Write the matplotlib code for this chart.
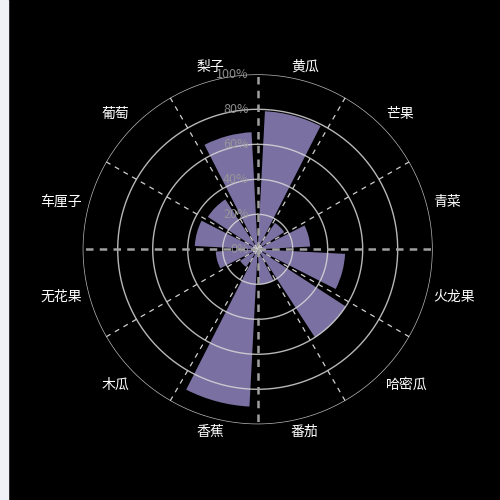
import numpy as np
import matplotlib
matplotlib.use("Agg")
import matplotlib.pyplot as plt
from matplotlib.patches import Rectangle

plt.rcParams['font.family'] = ['Noto Sans CJK SC', 'DejaVu Sans']

# categories clockwise from top
categories = ["黄瓜", "芒果", "青菜", "火龙果", "哈密瓜", "番茄",
              "香蕉", "木瓜", "无花果", "车厘子", "葡萄", "梨子"]
values = [79, 18, 30, 50, 60, 20, 90, 12, 24, 36, 34, 67]
r_ticks = [0, 20, 40, 60, 80, 100]
r_tick_labels = ["0%", "20%", "40%", "60%", "80%", "100%"]

BAR_COLOR = "#7a70a1"

fig = plt.figure(figsize=(5, 5), dpi=100, facecolor="black")
fig.patches.append(Rectangle((0, 0), 8 / 500, 1, transform=fig.transFigure,
                             color="#eff1f7", zorder=0))

ax = fig.add_axes([0.1654, 0.1514, 0.7, 0.7], projection="polar")
ax.set_facecolor("black")
ax.set_theta_zero_location("N")
ax.set_theta_direction(-1)
ax.set_ylim(0, 100)
ax.grid(False)
ax.set_xticks([])
ax.set_yticks([])
ax.spines["polar"].set_visible(False)

n = len(categories)
step = 2 * np.pi / n
theta = np.arange(n) * step + step / 2
ax.bar(theta, values, width=step * 0.8, bottom=0, color=BAR_COLOR,
       edgecolor="none", zorder=2)

# grid circles
tt = np.linspace(0, 2 * np.pi, 400)
for r in r_ticks[1:]:
    ax.plot(tt, np.full_like(tt, r), color="#d8d8d8", lw=1.0, alpha=0.85, zorder=3)
ax.plot(tt, np.full_like(tt, 2.5), color="#dddddd", lw=0.8, ls=(0, (1, 1)), zorder=3)

# spokes
for k in range(n):
    a = k * step
    if k % 3 == 0:
        ax.plot([a, a], [0, 100], color="#a0a0a0", lw=1.8, ls=(0, (3, 2.5)), zorder=4)
    else:
        ax.plot([a, a], [0, 100], color="#cfcfcf", lw=0.9, ls=(0, (4, 4)), zorder=4)

# radial tick labels
for r, lab in zip(r_ticks, r_tick_labels):
    ax.annotate(lab, xy=(0, r), xytext=(-9, 0), textcoords="offset pixels",
                ha="right", va="center", fontsize=9, color="#9a9a9a",
                alpha=0.9, zorder=5, annotation_clip=False)

# category labels
for t, lab in zip(theta, categories):
    s, c = np.sin(t), np.cos(t)
    ha = "left" if s > 0.3 else ("right" if s < -0.3 else "center")
    va = "bottom" if c > 0.3 else ("top" if c < -0.3 else "center")
    ax.text(t, 104, lab, ha=ha, va=va, fontsize=10, color="white",
            clip_on=False, zorder=5)

fig.savefig("out.png", dpi=100, facecolor="black")
